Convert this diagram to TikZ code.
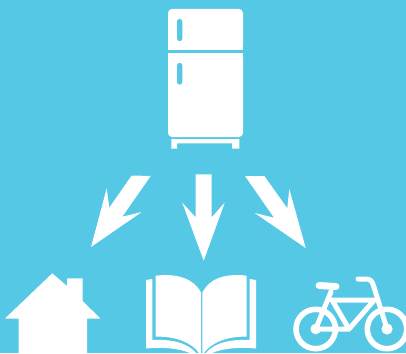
\documentclass[tikz,border=0pt]{standalone}
\definecolor{bgblue}{RGB}{85,200,230}
\tikzset{
  shapefill/.style={fill=white,draw=none},
  bikeline/.style={draw=white,line width=5pt,line cap=round,line join=round},
  wheelline/.style={draw=white,line width=5.6pt},
  slot/.style={fill=bgblue,draw=none,rounded corners=2.4pt}
}
\begin{document}
\begin{tikzpicture}[x=1pt,y=-1pt]
\useasboundingbox (0,0) rectangle (406,353);
\fill[bgblue] (0,0) rectangle (406,353);
\begin{scope}
\clip (0,0) rectangle (406,353);
% fridge
\fill[shapefill,rounded corners=4pt] (168,49.7) -- (168,9) -- (243,9) -- (243,49.7) -- cycle;
\fill[shapefill] (168,46) rectangle (243,49.7);
\fill[shapefill,rounded corners=4pt] (168,53) -- (168,137) -- (243,137) -- (243,53) -- cycle;
\fill[shapefill] (168,53) rectangle (243,57);
\fill[slot] (177,19) rectangle (182.3,41);
\fill[slot] (177,63) rectangle (182.3,84.5);
\fill[shapefill] (171.3,139) -- (239.3,139) -- (239.3,148.5) -- (232,148.5) -- (232,143.3) -- (177,143.3) -- (177,148.5) -- (171.3,148.5) -- cycle;
% arrows
\fill[shapefill] (131.7,175.5) -- (150.7,176) -- (122.3,216.7) -- (141.7,212) -- (91,247) -- (106.7,188.3) -- (109.3,207.7) -- cycle;
\fill[shapefill] (195.7,174.3) -- (211.7,174.3) -- (211.7,217.3) -- (224.7,202.7) -- (203.7,260.7) -- (182.3,202.7) -- (195.7,217.3) -- cycle;
\fill[shapefill] (245,176) -- (264.3,176) -- (287.3,208.3) -- (289.3,189) -- (305.7,248) -- (254.7,213) -- (274,217.7) -- cycle;
% house
\fill[shapefill] (52.3,273.3) -- (67,286) -- (67,278.3) -- (82.7,278.3) -- (82.7,301) -- (100.3,318.5) -- (87,318.5) -- (87,353) -- (18.7,353) -- (18.7,318.5) -- (5,318.5) -- cycle;
% book
\fill[shapefill] (155.7,275.7) .. controls (178,273) and (194,279) .. (201.2,292.7) -- (201.2,353) -- (199,353) .. controls (192,343) and (176,336) .. (155.7,336.7) -- cycle;
\fill[shapefill] (246.7,275.7) .. controls (224,273) and (209,279) .. (202.3,292.7) -- (202.3,353) -- (204,353) .. controls (211,343) and (227,336) .. (246.7,336.7) -- cycle;
\fill[shapefill] (146,280) -- (152.3,279) -- (152.3,340) .. controls (172,339) and (188,343) .. (196,353) -- (190,353) .. controls (178,348) and (162,347) .. (146,348.5) -- cycle;
\fill[shapefill] (256,280) -- (249.7,279) -- (249.7,340) .. controls (230,339) and (214,343) .. (206,353) -- (212,353) .. controls (224,348) and (240,347) .. (256,348.5) -- cycle;
% bicycle
\draw[wheelline] (315.7,329) circle (19.7pt);
\draw[wheelline] (387,329) circle (19.7pt);
\fill[shapefill] (315.7,329) circle (5.3pt);
\fill[shapefill] (387,329) circle (5.6pt);
\draw[bikeline] (331,291.7) -- (315.7,329) -- (349,329) -- (374.3,300) -- (333,300);
\draw[bikeline] (332,300) -- (349,329);
\draw[bikeline] (387,329) -- (373.3,285) .. controls (372,281) and (370,279) .. (366,279) -- (358,279);
\draw[draw=white,line width=7pt,line cap=round] (319,285.5) -- (336,286.5);
\end{scope}
\end{tikzpicture}
\end{document}
